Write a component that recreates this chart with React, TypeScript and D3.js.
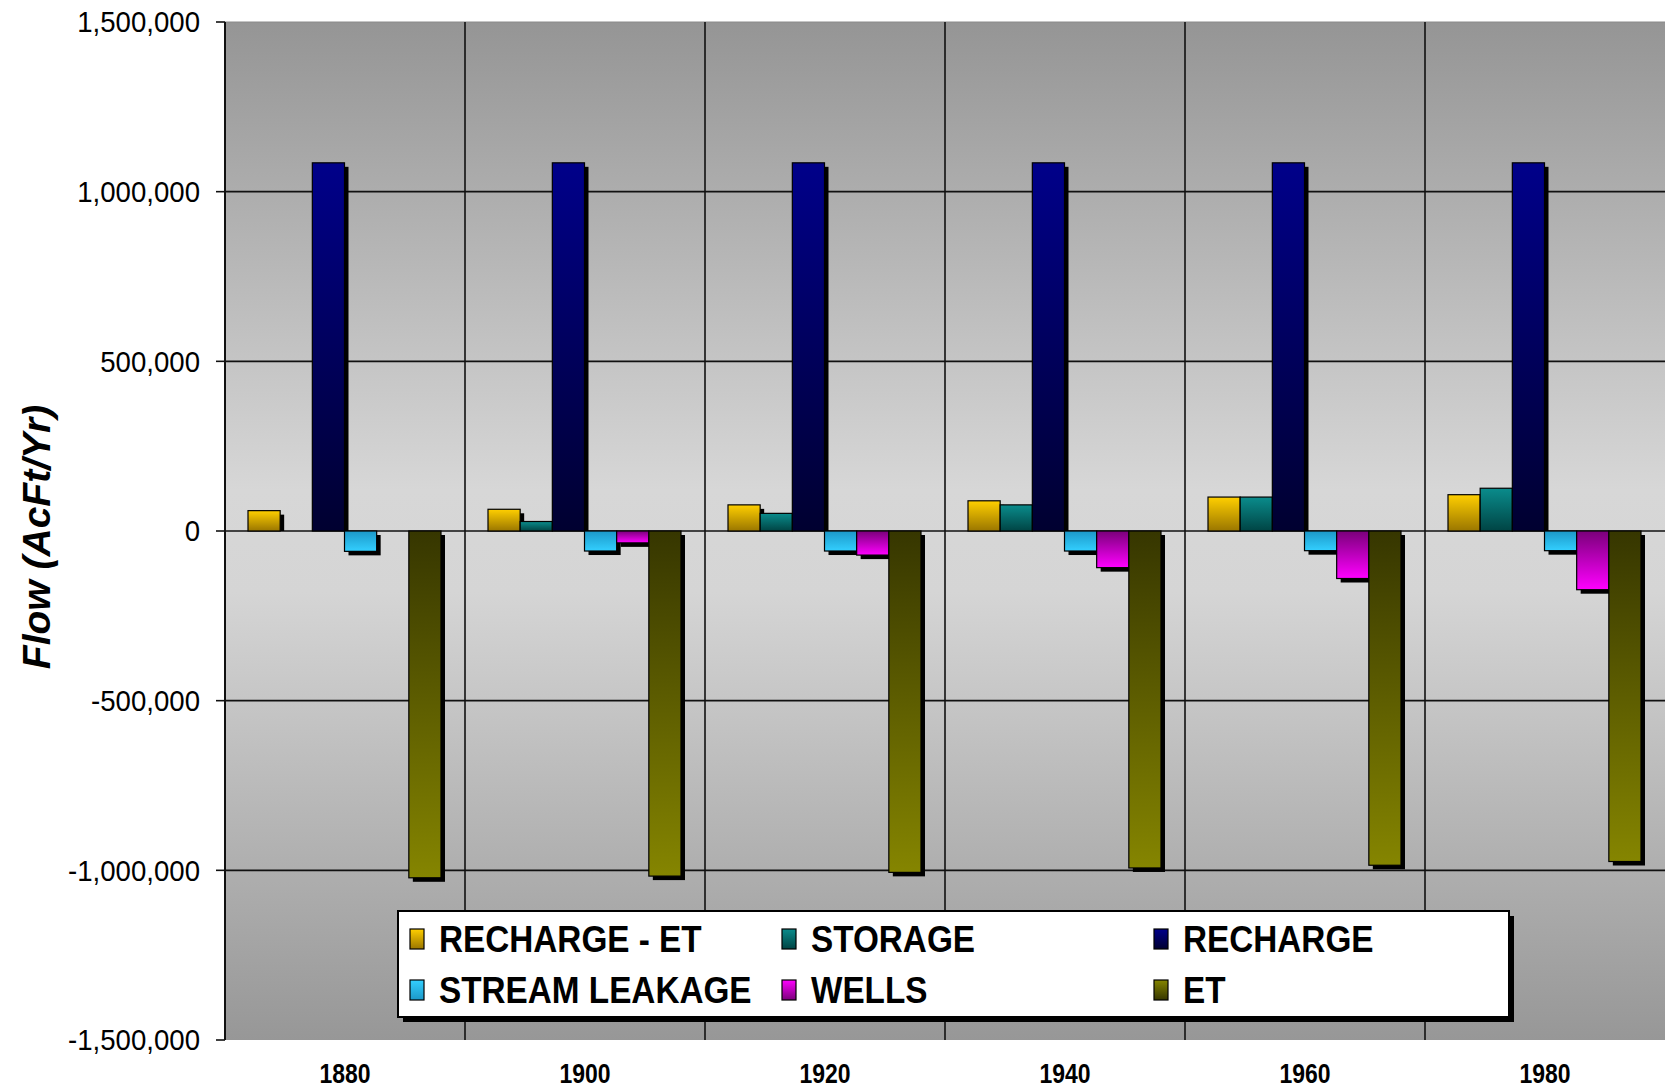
import React from 'react';
import * as d3 from 'd3';

const years = ['1880', '1900', '1920', '1940', '1960', '1980'];
const seriesNames = ['RECHARGE - ET', 'STORAGE', 'RECHARGE', 'STREAM LEAKAGE', 'WELLS', 'ET'];
const rechargeMinusEt = [60000, 64000, 77000, 89000, 100000, 107000];
const storage = [0, 28000, 52000, 77000, 100000, 126000];
const recharge = [1085000, 1085000, 1085000, 1085000, 1085000, 1085000];
const streamLeakage = [-60000, -59000, -59000, -59000, -58000, -58000];
const wells = [0, -35000, -71000, -108000, -140000, -173000];
const et = [-1022000, -1017000, -1006000, -993000, -985000, -974000];
const seriesValues = [rechargeMinusEt, storage, recharge, streamLeakage, wells, et];
const yTicks = [1500000, 1000000, 500000, 0, -500000, -1000000, -1500000];

const seriesBright = ['#FFCF00', '#0A8C8C', '#00008A', '#33CFFF', '#FF00FF', '#858500'];
const seriesDark = ['#9A7600', '#004444', '#000030', '#1C98C8', '#7A007A', '#363600'];

const W = 1667;
const H = 1092;
const plot = { left: 225, right: 1665, top: 22, bottom: 1040 };

const fmt = d3
  .formatLocale({ decimal: '.', thousands: ',', grouping: [3], currency: ['$', ''], minus: '-' })
  .format(',');

const FONT = "'Liberation Sans', Arial, sans-serif";

export default function App() {
  const y = d3.scaleLinear().domain([-1500000, 1500000]).range([plot.bottom, plot.top]);
  const x = d3.scaleBand().domain(years).range([plot.left, plot.right]).padding(0);
  const xInner = d3.scaleBand().domain(seriesNames).range([23, x.bandwidth() - 24]).padding(0);
  const y0 = y(0);
  const sh = 4;

  const legendBox = { x: 398, y: 911, w: 1111, h: 106 };
  const legendCols = [410, 782, 1154];
  const legendRows = [939, 990];

  return (
    <svg
      width={W}
      height={H}
      style={{ position: 'absolute', left: 0, top: 0, display: 'block', background: '#fff' }}
    >
      <defs>
        <linearGradient id="bg" x1="0" y1="0" x2="0" y2="1">
          <stop offset="0" stopColor="#959595" />
          <stop offset="0.46" stopColor="#d7d7d7" />
          <stop offset="0.56" stopColor="#d5d5d5" />
          <stop offset="1" stopColor="#979797" />
        </linearGradient>
        {seriesNames.map((s, i) => (
          <React.Fragment key={s}>
            <linearGradient id={`up${i}`} x1="0" y1="0" x2="0" y2="1">
              <stop offset="0" stopColor={seriesBright[i]} />
              <stop offset="1" stopColor={seriesDark[i]} />
            </linearGradient>
            <linearGradient id={`dn${i}`} x1="0" y1="0" x2="0" y2="1">
              <stop offset="0" stopColor={seriesDark[i]} />
              <stop offset="1" stopColor={seriesBright[i]} />
            </linearGradient>
          </React.Fragment>
        ))}
      </defs>

      {/* plot background */}
      <rect
        x={plot.left}
        y={plot.top}
        width={plot.right - plot.left}
        height={plot.bottom - plot.top}
        fill="url(#bg)"
      />
      <line x1={plot.left} x2={plot.right} y1={plot.top} y2={plot.top} stroke="#8a8a8a" strokeWidth={1} />

      {/* horizontal gridlines */}
      {yTicks.slice(1, -1).map((t) => (
        <line key={t} x1={plot.left} x2={plot.right} y1={y(t)} y2={y(t)} stroke="#111" strokeWidth={1.6} />
      ))}
      {/* vertical category lines */}
      {years.slice(1).map((yr) => (
        <line
          key={yr}
          x1={x(yr)}
          x2={x(yr)}
          y1={plot.top}
          y2={plot.bottom}
          stroke="#111"
          strokeWidth={1.6}
        />
      ))}

      {/* bars */}
      {years.map((yr, ci) => (
        <g key={yr}>
          {seriesNames.map((s, si) => {
            const v = seriesValues[si][ci];
            if (!v) return null;
            const bx = (x(yr) as number) + (xInner(s) as number);
            const bw = xInner.bandwidth();
            const yv = y(v);
            const top = Math.min(yv, y0);
            const h = Math.abs(yv - y0);
            const pos = v > 0;
            return (
              <g key={s}>
                {pos ? (
                  <rect x={bx + sh} y={top + sh} width={bw} height={Math.max(0, h - sh)} fill="#000" />
                ) : (
                  <rect x={bx + sh} y={top + sh} width={bw} height={h} fill="#000" />
                )}
                <rect
                  x={bx}
                  y={top}
                  width={bw}
                  height={h}
                  fill={`url(#${pos ? 'up' : 'dn'}${si})`}
                  stroke="#000"
                  strokeWidth={1.2}
                />
              </g>
            );
          })}
        </g>
      ))}

      {/* left axis */}
      <line x1={plot.left} x2={plot.left} y1={plot.top} y2={plot.bottom} stroke="#111" strokeWidth={2} />
      {yTicks.map((t) => (
        <g key={t}>
          <line x1={plot.left - 9} x2={plot.left} y1={y(t)} y2={y(t)} stroke="#111" strokeWidth={1.6} />
          <text
            transform={`translate(200, ${y(t)}) scale(0.92, 1)`}
            textAnchor="end"
            dominantBaseline="central"
            fontFamily={FONT}
            fontSize={30}
            fill="#000"
          >
            {fmt(t)}
          </text>
        </g>
      ))}

      {/* x labels */}
      {years.map((yr) => (
        <text
          key={yr}
          transform={`translate(${(x(yr) as number) + x.bandwidth() / 2}, 1073) scale(0.82, 1)`}
          textAnchor="middle"
          dominantBaseline="central"
          fontFamily={FONT}
          fontWeight="bold"
          fontSize={28}
          fill="#000"
        >
          {yr}
        </text>
      ))}

      {/* y axis title */}
      <text
        transform="translate(36, 537) rotate(-90)"
        textAnchor="middle"
        dominantBaseline="central"
        fontFamily={FONT}
        fontWeight="bold"
        fontStyle="italic"
        fontSize={39}
        fill="#000"
      >
        Flow (AcFt/Yr)
      </text>

      {/* legend */}
      <rect x={legendBox.x + 5} y={legendBox.y + 5} width={legendBox.w} height={legendBox.h} fill="#000" />
      <rect
        x={legendBox.x}
        y={legendBox.y}
        width={legendBox.w}
        height={legendBox.h}
        fill="#fff"
        stroke="#000"
        strokeWidth={2}
      />
      {seriesNames.map((s, i) => {
        const cx = legendCols[i % 3];
        const cy = legendRows[Math.floor(i / 3)];
        return (
          <g key={s}>
            <rect x={cx} y={cy - 10} width={14} height={20} fill={`url(#up${i})`} stroke="#000" strokeWidth={1.2} />
            <text
              transform={`translate(${cx + 29}, ${cy}) scale(0.9, 1)`}
              dominantBaseline="central"
              fontFamily={FONT}
              fontWeight="bold"
              fontSize={37}
              fill="#000"
            >
              {s}
            </text>
          </g>
        );
      })}
    </svg>
  );
}
